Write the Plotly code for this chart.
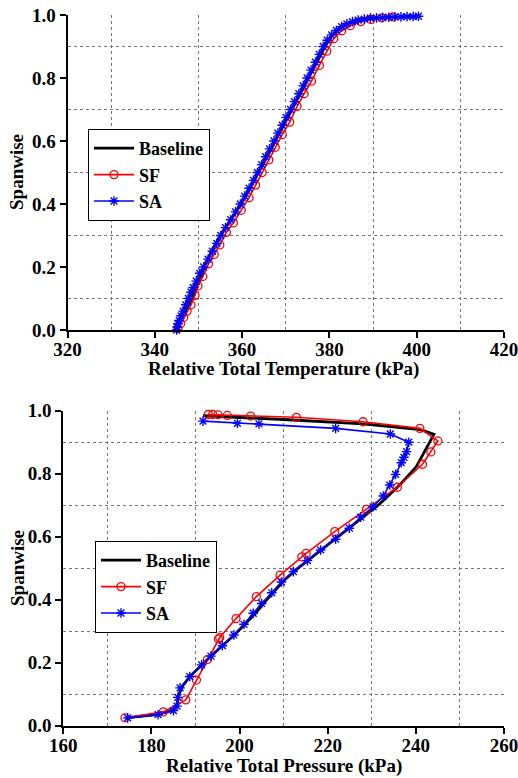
import plotly.graph_objects as go

# ---------- Top panel: Relative Total Temperature ----------
temp_base_x = [345.0, 345.8, 347.0, 348.5, 350.0, 351.3, 353.0, 355.0, 357.4, 359.8, 361.8, 363.8,
               365.7, 367.6, 369.5, 371.4, 373.3, 375.2, 377.1, 379.0, 380.6, 382.3, 384.5, 387.0,
               390.0, 393.5, 397.0, 400.5]
temp_base_y = [0.0, 0.03, 0.06, 0.10, 0.15, 0.20, 0.25, 0.30, 0.35, 0.40, 0.45, 0.50,
               0.55, 0.60, 0.65, 0.70, 0.75, 0.80, 0.85, 0.90, 0.935, 0.958, 0.974, 0.984,
               0.990, 0.993, 0.995, 0.996]

temp_sf_x = [345.3, 345.9, 346.6, 347.4, 348.3, 349.2, 349.9, 351.0, 352.3, 353.6, 354.9, 356.4,
             358.0, 359.8, 361.6, 363.1, 364.6, 366.1, 367.6, 369.2, 370.9, 372.6, 374.2, 375.9,
             377.7, 379.4, 381.0, 382.8, 384.8, 387.2, 389.5, 392.0, 394.5]
temp_sf_y = [0.005, 0.02, 0.04, 0.06, 0.08, 0.11, 0.14, 0.17, 0.21, 0.24, 0.27, 0.31,
             0.34, 0.38, 0.42, 0.46, 0.50, 0.54, 0.58, 0.62, 0.66, 0.71, 0.75, 0.79,
             0.84, 0.885, 0.925, 0.950, 0.966, 0.979, 0.986, 0.991, 0.994]

temp_sa_x = [345.0, 345.1, 345.3, 345.6, 346.0, 346.5, 347.1, 347.7, 348.3, 348.8, 349.5, 350.3,
             351.2, 352.2, 353.2, 354.2, 355.1, 356.2, 357.4, 358.5, 359.6, 360.6, 361.6, 362.6,
             363.5, 364.5, 365.4, 366.3, 367.3, 368.2, 369.2, 370.1, 371.1, 372.0, 373.0, 374.0,
             374.9, 375.8, 376.8, 377.7, 378.6, 379.5, 380.5, 381.6, 382.8, 384.0, 385.3, 386.6,
             388.0, 389.4, 390.8, 392.2, 393.6, 395.0, 396.4, 397.8, 399.2, 400.4]
temp_sa_y = [0.0, 0.01, 0.02, 0.03, 0.045, 0.06, 0.08, 0.10, 0.12, 0.135, 0.155, 0.18,
             0.20, 0.225, 0.25, 0.275, 0.30, 0.325, 0.35, 0.375, 0.40, 0.425, 0.45, 0.475,
             0.50, 0.525, 0.55, 0.575, 0.60, 0.625, 0.65, 0.675, 0.70, 0.725, 0.75, 0.775,
             0.80, 0.825, 0.85, 0.875, 0.90, 0.92, 0.937, 0.951, 0.963, 0.972, 0.979, 0.984,
             0.987, 0.990, 0.991, 0.992, 0.993, 0.994, 0.994, 0.995, 0.995, 0.996]

# ---------- Bottom panel: Relative Total Pressure ----------
pres_base_x = [174.2, 181.2, 185.0, 185.8, 186.3, 187.0, 188.7, 191.4, 193.5, 196.1, 198.8, 201.2,
               203.6, 205.6, 207.8, 210.0, 212.7, 215.8, 218.9, 222.2, 225.5, 228.6, 231.6, 234.3,
               236.6, 240.1, 243.2, 244.1, 241.0, 228.0, 210.0, 191.7]
pres_base_y = [0.025, 0.035, 0.05, 0.07, 0.10, 0.125, 0.156, 0.193, 0.221, 0.254, 0.288, 0.322,
               0.357, 0.391, 0.425, 0.46, 0.494, 0.528, 0.562, 0.598, 0.633, 0.668, 0.702, 0.737,
               0.768, 0.822, 0.905, 0.925, 0.940, 0.958, 0.972, 0.984]

pres_sf_x = [174.0, 182.7, 187.8, 190.2, 192.7, 195.2, 195.5, 199.2, 203.8, 209.2, 214.1, 215.1,
             221.6, 228.8, 235.8, 241.5, 243.4, 245.0, 240.9, 228.0, 212.9, 202.5, 197.2, 195.1,
             193.9, 192.9]
pres_sf_y = [0.025, 0.044, 0.082, 0.145, 0.21, 0.275, 0.28, 0.34, 0.41, 0.478, 0.536, 0.547,
             0.616, 0.687, 0.757, 0.830, 0.869, 0.904, 0.944, 0.965, 0.979, 0.983, 0.985, 0.987,
             0.988, 0.988]

pres_sa_x = [174.6, 181.5, 185.0, 185.8, 186.0, 186.5, 188.7, 191.4, 193.5, 196.1, 198.7, 201.0,
             203.1, 205.0, 207.3, 209.5, 212.2, 215.4, 218.4, 221.8, 224.9, 227.5, 230.3, 232.6,
             234.1, 235.4, 236.7, 237.3, 237.9, 238.4, 234.2, 221.8, 204.4, 199.5, 191.7]
pres_sa_y = [0.025, 0.035, 0.048, 0.062, 0.09, 0.12, 0.156, 0.193, 0.221, 0.254, 0.288, 0.322,
             0.357, 0.388, 0.422, 0.456, 0.489, 0.524, 0.558, 0.592, 0.627, 0.662, 0.695, 0.729,
             0.764, 0.798, 0.835, 0.852, 0.870, 0.900, 0.926, 0.944, 0.958, 0.960, 0.967]

x_tick_top = [320, 340, 360, 380, 400, 420]
x_tick_bot = [160, 180, 200, 220, 240, 260]
y_ticks = [0.0, 0.2, 0.4, 0.6, 0.8, 1.0]
x_title_top = "Relative Total Temperature (kPa)"
x_title_bot = "Relative Total Pressure (kPa)"
y_title = "Spanwise"

FONT = "Liberation Serif"
W, H = 518, 778
FS = 19

fig = go.Figure()

def add_series(xs, ys, kind, xa, ya, leg):
    if kind == "Baseline":
        fig.add_trace(go.Scatter(x=xs, y=ys, mode="lines", name="Baseline",
                                 line=dict(color="black", width=2.8), xaxis=xa, yaxis=ya,
                                 legend=leg, cliponaxis=False))
    elif kind == "SF":
        fig.add_trace(go.Scatter(x=xs, y=ys, mode="lines+markers", name="SF",
                                 line=dict(color="#ff0000", width=1.6),
                                 marker=dict(symbol="circle-open", size=8, color="#ff0000",
                                             line=dict(width=1.3)),
                                 xaxis=xa, yaxis=ya, legend=leg, cliponaxis=False))
    else:
        fig.add_trace(go.Scatter(x=xs, y=ys, mode="lines+markers", name="SA",
                                 line=dict(color="#0000ff", width=1.6),
                                 marker=dict(symbol="asterisk-open", size=8, color="#0000ff",
                                             line=dict(width=1.4, color="#0000ff")),
                                 xaxis=xa, yaxis=ya, legend=leg, cliponaxis=False))

add_series(temp_base_x, temp_base_y, "Baseline", "x", "y", "legend")
add_series(temp_sf_x, temp_sf_y, "SF", "x", "y", "legend")
add_series(temp_sa_x, temp_sa_y, "SA", "x", "y", "legend")
add_series(pres_base_x, pres_base_y, "Baseline", "x2", "y2", "legend2")
add_series(pres_sf_x, pres_sf_y, "SF", "x2", "y2", "legend2")
add_series(pres_sa_x, pres_sa_y, "SA", "x2", "y2", "legend2")

def xaxis(domain, rng, ticks, anchor):
    return dict(domain=domain, range=rng, tickvals=ticks, ticktext=[str(t) for t in ticks],
                showline=True, linecolor="black", linewidth=2, mirror=False,
                ticks="outside", ticklen=6, tickwidth=2, tickcolor="black",
                showgrid=False, zeroline=False, anchor=anchor,
                minor=dict(tick0=rng[0] + 10, dtick=20, showgrid=True, gridcolor="#777777",
                           griddash="dot", gridwidth=1, ticks=""),
                tickfont=dict(size=FS, color="black", family=FONT, weight="bold"),
                ticklabelstandoff=-5,
                ticklabeloverflow="allow", automargin=False)

def yaxis(domain, anchor):
    return dict(domain=domain, range=[0, 1], tickvals=y_ticks,
                ticktext=["%.1f" % v for v in y_ticks],
                showline=True, linecolor="black", linewidth=2, mirror=False,
                ticks="outside", ticklen=6, tickwidth=2, tickcolor="black",
                showgrid=False, zeroline=False, anchor=anchor,
                minor=dict(tick0=0.1, dtick=0.2, showgrid=True, gridcolor="#777777",
                           griddash="dot", gridwidth=1, ticks=""),
                tickfont=dict(size=FS, color="black", family=FONT, weight="bold"),
                ticklabeloverflow="allow", automargin=False)

def title_ann(text, xc, yc, angle=0):
    return dict(text=text, x=xc / W, y=1 - yc / H, xref="paper", yref="paper",
                xanchor="center", yanchor="middle", showarrow=False, textangle=angle,
                font=dict(size=FS, color="black", family=FONT, weight="bold"))

legend_style = dict(xanchor="left", yanchor="top", bordercolor="black", borderwidth=1,
                    bgcolor="white", font=dict(size=18, family=FONT, weight="bold", color="black"),
                    tracegroupgap=0, itemwidth=40)

fig.update_layout(
    width=W, height=H,
    margin=dict(l=0, r=0, t=0, b=0),
    paper_bgcolor="white", plot_bgcolor="white",
    font=dict(family=FONT, color="black", weight="bold", size=FS),
    xaxis=xaxis([67.5 / W, 504 / W], [320, 420], x_tick_top, "y"),
    yaxis=yaxis([1 - 330 / H, 1 - 15 / H], "x"),
    xaxis2=xaxis([63.3 / W, 504 / W], [160, 260], x_tick_bot, "y2"),
    yaxis2=yaxis([1 - 725.7 / H, 1 - 410.7 / H], "x2"),
    legend=dict(x=88 / W, y=1 - 129 / H, **legend_style),
    legend2=dict(x=95 / W, y=1 - 541 / H, **legend_style),
    showlegend=True,
    annotations=[
        title_ann(x_title_top, 283, 369),
        title_ann(x_title_bot, 284, 766),
        title_ann(y_title, 17, 172, -90),
        title_ann(y_title, 17, 568, -90),
    ],
)

fig.write_html("out.html")
